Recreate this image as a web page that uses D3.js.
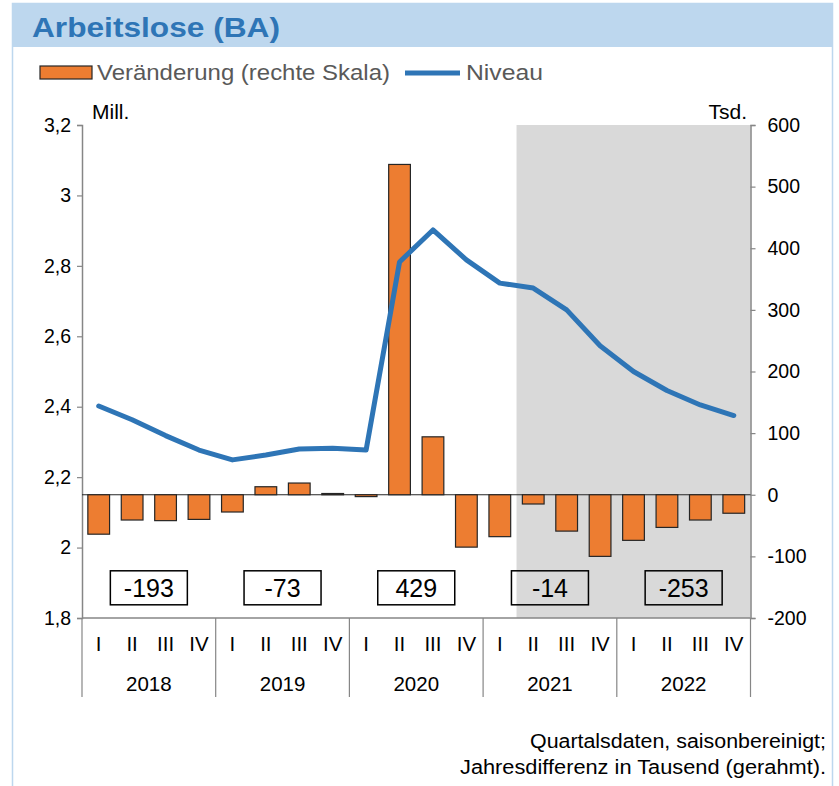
<!DOCTYPE html>
<html>
<head>
<meta charset="utf-8">
<script src="https://cdn.jsdelivr.net/npm/d3@7"></script>
<style>
  html, body { margin: 0; padding: 0; background: #ffffff; }
  svg { display: block; }
</style>
</head>
<body>
<svg id="chart" width="839" height="786"></svg>
<script>
// ---- Data ----
const years = ["2018", "2019", "2020", "2021", "2022"];
const quarters = ["I", "II", "III", "IV"];
// Niveau (Mill., left scale)
const niveau = [2.402, 2.363, 2.318, 2.277,
                2.249, 2.263, 2.280, 2.282,
                2.277, 2.811, 2.902, 2.817,
                2.751, 2.737, 2.675, 2.573,
                2.500, 2.446, 2.405, 2.375];
// Veränderung (Tsd., right scale)
const veraenderung = [-64, -41, -42, -40,
                      -28, 13, 19, 2,
                      -3, 536, 94, -85,
                      -68, -15, -59, -100,
                      -74, -53, -41, -30];
// Jahresdifferenz (Tsd., framed)
const jahresdifferenz = [-193, -73, 429, -14, -253];
const leftTicks = [1.8, 2.0, 2.2, 2.4, 2.6, 2.8, 3.0, 3.2];
const rightTicks = [-200, -100, 0, 100, 200, 300, 400, 500, 600];
const shadeFrom = "2021-II";

const categories = [];
years.forEach(y => quarters.forEach(q => categories.push(y + "-" + q)));

// ---- Layout ----
const svg = d3.select("#chart");
const pLeft = 82, pRight = 750.5, pTop = 125, pBottom = 618;
const FONT = "'Liberation Sans', Arial, sans-serif";

// frame
svg.append("rect").attr("x", 12.5).attr("y", 3.5).attr("width", 820).attr("height", 800)
  .attr("fill", "none").attr("stroke", "#bdd7ee").attr("stroke-width", 1.5);
svg.append("rect").attr("x", 12).attr("y", 3).attr("width", 821).attr("height", 44)
  .attr("fill", "#bdd7ee");
svg.append("text").attr("x", 32).attr("y", 37)
  .attr("font-family", FONT).attr("font-weight", "bold").attr("font-size", 28)
  .attr("textLength", 248).attr("lengthAdjust", "spacingAndGlyphs")
  .attr("fill", "#2e75b6").text("Arbeitslose (BA)");

// legend
svg.append("rect").attr("x", 40).attr("y", 66).attr("width", 52).attr("height", 13)
  .attr("fill", "#ed7d31").attr("stroke", "#262626").attr("stroke-width", 1.2);
svg.append("text").attr("x", 97).attr("y", 80).attr("font-family", FONT).attr("font-size", 22)
  .attr("textLength", 293).attr("lengthAdjust", "spacingAndGlyphs")
  .attr("fill", "#595959").text("Veränderung (rechte Skala)");
svg.append("line").attr("x1", 405).attr("x2", 460).attr("y1", 73).attr("y2", 73)
  .attr("stroke", "#2e75b6").attr("stroke-width", 5);
svg.append("text").attr("x", 466).attr("y", 80).attr("font-family", FONT).attr("font-size", 22)
  .attr("textLength", 77).attr("lengthAdjust", "spacingAndGlyphs")
  .attr("fill", "#595959").text("Niveau");

// scales
const x = d3.scaleBand().domain(categories).range([pLeft, pRight]).paddingInner(0.35).paddingOuter(0.175);
const step = x.step();
const xc = c => x(c) + x.bandwidth() / 2;
const yL = d3.scaleLinear().domain([1.8, 3.2]).range([pBottom, pTop]);
const yR = d3.scaleLinear().domain([-200, 600]).range([pBottom, pTop]);

// shaded forecast area
const shadeX = x(shadeFrom) - step * x.paddingInner() / 2;
svg.append("rect").attr("x", shadeX).attr("y", pTop).attr("width", pRight - shadeX).attr("height", pBottom - pTop)
  .attr("fill", "#d9d9d9");

// axes
const fmt = d => String(d).replace(".", ",");
const axL = svg.append("g").attr("transform", `translate(${pLeft},0)`)
  .call(d3.axisLeft(yL).tickValues(leftTicks).tickFormat(fmt).tickSize(5).tickPadding(6));
const axR = svg.append("g").attr("transform", `translate(${pRight},0)`)
  .call(d3.axisRight(yR).tickValues(rightTicks).tickFormat(d => String(d)).tickSize(5).tickPadding(12));
[axL, axR].forEach(a => {
  a.select(".domain").attr("stroke", "#868686").attr("stroke-width", 1.5);
  a.selectAll(".tick line").attr("stroke", "#868686").attr("stroke-width", 1.2);
  a.selectAll("text").attr("font-family", FONT).attr("font-size", 19.5).attr("fill", "#000");
});

// axis titles
svg.append("text").attr("x", 92).attr("y", 119).attr("font-family", FONT).attr("font-size", 21)
  .attr("fill", "#000").text("Mill.");
svg.append("text").attr("x", 747).attr("y", 119).attr("text-anchor", "end").attr("font-family", FONT)
  .attr("font-size", 21).attr("fill", "#000").text("Tsd.");

// zero line (bars baseline)
svg.append("line").attr("x1", pLeft).attr("x2", pRight).attr("y1", yR(0)).attr("y2", yR(0))
  .attr("stroke", "#262626").attr("stroke-width", 1);

// bars
svg.append("g").selectAll("rect").data(categories).join("rect")
  .attr("x", c => x(c))
  .attr("width", x.bandwidth())
  .attr("y", (c, i) => yR(Math.max(0, veraenderung[i])))
  .attr("height", (c, i) => Math.abs(yR(veraenderung[i]) - yR(0)))
  .attr("fill", "#ed7d31").attr("stroke", "#262626").attr("stroke-width", 1.2);

// line
svg.append("path").datum(categories)
  .attr("d", d3.line().x(c => xc(c)).y((c, i) => yL(niveau[i])))
  .attr("fill", "none").attr("stroke", "#2e75b6").attr("stroke-width", 5)
  .attr("stroke-linejoin", "round").attr("stroke-linecap", "round");

// annual difference boxes
const boxG = svg.append("g");
years.forEach((y, i) => {
  const cx = (xc(y + "-II") + xc(y + "-III")) / 2;
  const cy = yR(-151);
  boxG.append("rect").attr("x", cx - 38.5).attr("y", cy - 17).attr("width", 77).attr("height", 34)
    .attr("fill", "none").attr("stroke", "#000").attr("stroke-width", 1.5);
  boxG.append("text").attr("x", cx).attr("y", cy + 9).attr("text-anchor", "middle")
    .attr("font-family", FONT).attr("font-size", 25).attr("fill", "#000").text(jahresdifferenz[i]);
});

// x axis
svg.append("line").attr("x1", pLeft).attr("x2", pRight).attr("y1", pBottom).attr("y2", pBottom)
  .attr("stroke", "#868686").attr("stroke-width", 1.5);
const xg = svg.append("g");
years.forEach((y, i) => {
  const x0 = x(y + "-I") - step * x.paddingInner() / 2;
  xg.append("line").attr("x1", x0).attr("x2", x0).attr("y1", pBottom).attr("y2", 697)
    .attr("stroke", "#868686").attr("stroke-width", 1.2);
  const cx = (xc(y + "-II") + xc(y + "-III")) / 2;
  xg.append("text").attr("x", cx).attr("y", 691).attr("text-anchor", "middle")
    .attr("font-family", FONT).attr("font-size", 20.5).attr("fill", "#000").text(y);
});
xg.append("line").attr("x1", pRight).attr("x2", pRight).attr("y1", pBottom).attr("y2", 697)
  .attr("stroke", "#868686").attr("stroke-width", 1.2);
categories.forEach(c => {
  xg.append("text").attr("x", xc(c)).attr("y", 651).attr("text-anchor", "middle")
    .attr("font-family", FONT).attr("font-size", 20.5).attr("fill", "#000").text(c.split("-")[1]);
});

// footer
svg.append("text").attr("x", 826).attr("y", 748).attr("text-anchor", "end")
  .attr("font-family", FONT).attr("font-size", 20)
  .attr("textLength", 296).attr("lengthAdjust", "spacingAndGlyphs")
  .attr("fill", "#000").text("Quartalsdaten, saisonbereinigt;");
svg.append("text").attr("x", 826).attr("y", 774).attr("text-anchor", "end")
  .attr("font-family", FONT).attr("font-size", 20)
  .attr("textLength", 366).attr("lengthAdjust", "spacingAndGlyphs")
  .attr("fill", "#000").text("Jahresdifferenz in Tausend (gerahmt).");
</script>
</body>
</html>
